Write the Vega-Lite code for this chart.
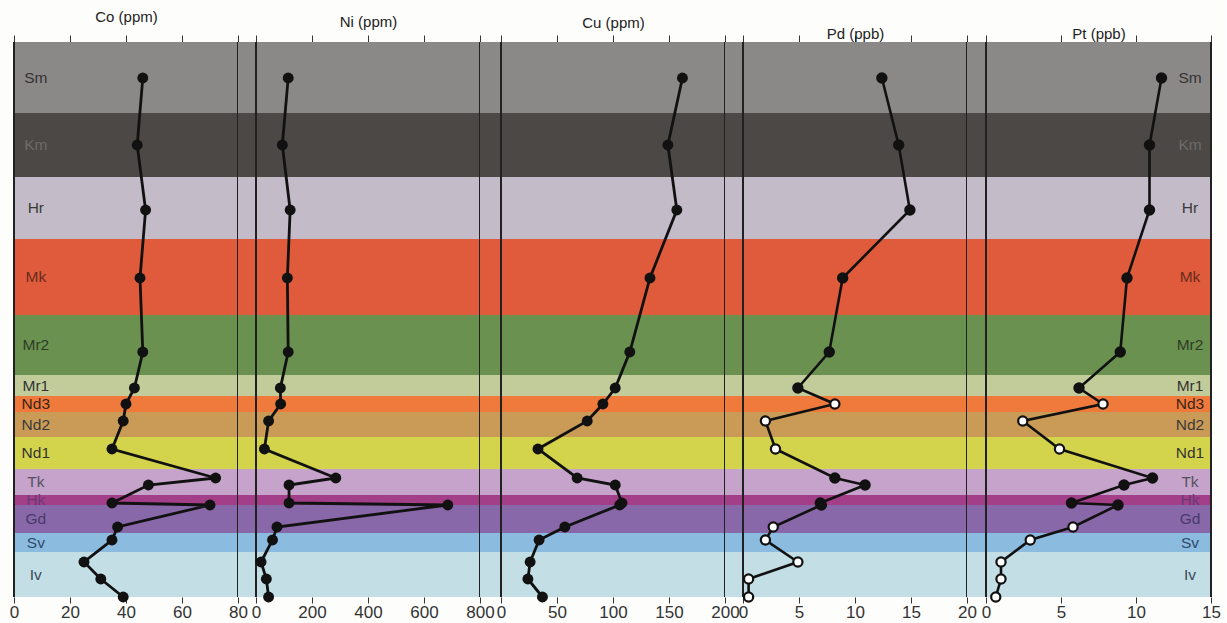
{
  "$schema": "https://vega.github.io/schema/vega-lite/v6.json",
  "background": "#fdfdfb",
  "padding": {"left": 9, "top": 9, "right": 5, "bottom": 5},
  "spacing": 0,
  "bounds": "flush",
  "config": {
    "view": {"stroke": null},
    "font": "Liberation Sans",
    "axis": {"grid": false}
  },
  "resolve": {"scale": {"x": "independent"}},
  "datasets": {
    "bands": [
      {"unit": "Sm", "bottom": 484, "top": 555},
      {"unit": "Km", "bottom": 420, "top": 484},
      {"unit": "Hr", "bottom": 358, "top": 420},
      {"unit": "Mk", "bottom": 282, "top": 358},
      {"unit": "Mr2", "bottom": 222, "top": 282},
      {"unit": "Mr1", "bottom": 201, "top": 222},
      {"unit": "Nd3", "bottom": 185, "top": 201},
      {"unit": "Nd2", "bottom": 160, "top": 185},
      {"unit": "Nd1", "bottom": 128, "top": 160},
      {"unit": "Tk", "bottom": 102, "top": 128},
      {"unit": "Hk", "bottom": 92, "top": 102},
      {"unit": "Gd", "bottom": 64, "top": 92},
      {"unit": "Sv", "bottom": 45, "top": 64},
      {"unit": "Iv", "bottom": 0, "top": 45}
    ],
    "samples": [
      {"unit": "Sm", "height": 519, "Co": 46, "Ni": 115, "Cu": 162, "Pd": 12.4, "Pd_group": "A", "Pt": 11.7, "Pt_group": "A"},
      {"unit": "Km", "height": 452, "Co": 44, "Ni": 94, "Cu": 149, "Pd": 13.9, "Pd_group": "A", "Pt": 10.9, "Pt_group": "A"},
      {"unit": "Hr", "height": 387, "Co": 47, "Ni": 122, "Cu": 157, "Pd": 14.9, "Pd_group": "A", "Pt": 10.9, "Pt_group": "A"},
      {"unit": "Mk", "height": 319, "Co": 45, "Ni": 112, "Cu": 133, "Pd": 8.9, "Pd_group": "A", "Pt": 9.4, "Pt_group": "A"},
      {"unit": "Mr2", "height": 245, "Co": 46, "Ni": 115, "Cu": 115, "Pd": 7.7, "Pd_group": "A", "Pt": 8.95, "Pt_group": "A"},
      {"unit": "Mr1", "height": 209, "Co": 43, "Ni": 87, "Cu": 102, "Pd": 4.9, "Pd_group": "A", "Pt": 6.2, "Pt_group": "A"},
      {"unit": "Nd3", "height": 193, "Co": 40, "Ni": 88, "Cu": 91, "Pd": 8.2, "Pd_group": "B", "Pt": 7.8, "Pt_group": "B"},
      {"unit": "Nd2", "height": 176, "Co": 39, "Ni": 45, "Cu": 77, "Pd": 2.0, "Pd_group": "B", "Pt": 2.45, "Pt_group": "B"},
      {"unit": "Nd1", "height": 148, "Co": 35, "Ni": 30, "Cu": 33, "Pd": 2.9, "Pd_group": "B", "Pt": 4.9, "Pt_group": "B"},
      {"unit": "Tk", "height": 119, "Co": 72, "Ni": 285, "Cu": 68, "Pd": 8.2, "Pd_group": "A", "Pt": 11.1, "Pt_group": "A"},
      {"unit": "Tk", "height": 112, "Co": 48, "Ni": 118, "Cu": 102, "Pd": 10.9, "Pd_group": "A", "Pt": 9.2, "Pt_group": "A"},
      {"unit": "Hk", "height": 94, "Co": 35, "Ni": 118, "Cu": 108, "Pd": 6.9, "Pd_group": "A", "Pt": 5.7, "Pt_group": "A"},
      {"unit": "Hk", "height": 92, "Co": 70, "Ni": 685, "Cu": 106, "Pd": 7.0, "Pd_group": "A", "Pt": 8.8, "Pt_group": "A"},
      {"unit": "Gd", "height": 70, "Co": 37, "Ni": 75, "Cu": 57, "Pd": 2.7, "Pd_group": "B", "Pt": 5.8, "Pt_group": "B"},
      {"unit": "Sv", "height": 57, "Co": 35, "Ni": 59, "Cu": 34, "Pd": 2.0, "Pd_group": "B", "Pt": 2.95, "Pt_group": "B"},
      {"unit": "Iv", "height": 35, "Co": 25, "Ni": 18, "Cu": 26, "Pd": 4.9, "Pd_group": "B", "Pt": 1.0, "Pt_group": "B"},
      {"unit": "Iv", "height": 18, "Co": 31, "Ni": 37, "Cu": 24, "Pd": 0.5, "Pd_group": "B", "Pt": 1.0, "Pt_group": "B"},
      {"unit": "Iv", "height": 0, "Co": 39, "Ni": 45, "Cu": 37, "Pd": 0.5, "Pd_group": "B", "Pt": 0.65, "Pt_group": "B"}
    ]
  },
  "hconcat": [
    {
      "width": 224, "height": 555,
      "resolve": {"axis": {"x": "independent"}},
      "layer": [
        {"data": {"name": "bands"}, "mark": {"type": "rect"},
         "encoding": {
           "y": {"field": "bottom", "type": "quantitative", "scale": {"domain": [0, 555], "nice": false, "zero": false}, "axis": null},
           "y2": {"field": "top"},
           "color": {"field": "unit", "type": "nominal", "legend": null,
             "scale": {"domain": ["Sm","Km","Hr","Mk","Mr2","Mr1","Nd3","Nd2","Nd1","Tk","Hk","Gd","Sv","Iv"],
                       "range": ["#8b8888","#4b4845","#c3bbc8","#e05b3b","#6a9150","#c2cc9a","#ef7a3c","#c99b57","#d4d34c","#c6a3cb","#a23f88","#8868a8","#8cbbe0","#c3dfe5"]}}
         }},
        {"data": {"name": "bands"}, "transform": [{"calculate": "(datum.top + datum.bottom) / 2", "as": "mid"}],
         "mark": {"type": "text", "fontSize": 15.5, "align": "center", "baseline": "middle"},
         "encoding": {
           "x": {"datum": 7.8, "type": "quantitative", "axis": null},
           "y": {"field": "mid", "type": "quantitative", "axis": null},
           "text": {"field": "unit"},
           "fill": {"field": "unit", "type": "nominal", "legend": null,
             "scale": {"domain": ["Sm","Km","Hr","Mk","Mr2","Mr1","Nd3","Nd2","Nd1","Tk","Hk","Gd","Sv","Iv"],
                       "range": ["#333333","#6e6b68","#3a3a3a","#6a2c1c","#2d3d25","#333333","#3a2416","#3a3a3a","#333333","#555060","#6a3a7a","#4a3a6a","#2f4a6a","#3a4a5a"]}}
         }},
        {"data": {"name": "samples"}, "mark": {"type": "rule", "color": "#222", "strokeWidth": 1.2},
         "encoding": {"x": {"datum": 0, "type": "quantitative", "axis": null}}},
        {"data": {"name": "samples"}, "mark": {"type": "rule", "color": "#222", "strokeWidth": 1.2},
         "encoding": {"x": {"datum": 80, "type": "quantitative", "axis": null}}},
        {"data": {"name": "samples"}, "mark": {"type": "line", "color": "#111", "strokeWidth": 2.8},
         "encoding": {
           "x": {"field": "Co", "type": "quantitative", "scale": {"domain": [0, 80], "nice": false, "zero": true},
                 "axis": {"orient": "bottom", "values": [0, 20, 40, 60, 80], "title": null, "domain": false, "labelFontSize": 17, "labelColor": "#333", "tickColor": "#333", "tickSize": 6, "labelPadding": 1, "labelFlush": false, "labelOverlap": false}},
           "y": {"field": "height", "type": "quantitative", "axis": null},
           "order": {"field": "height", "sort": "descending"}
         }},
        {"data": {"name": "samples"}, "mark": {"type": "point", "filled": true, "color": "#111", "size": 120, "opacity": 1},
         "encoding": {
           "x": {"field": "Co", "type": "quantitative",
                 "axis": {"orient": "top", "values": [0, 20, 40, 60, 80], "labels": false, "title": "Co (ppm)", "domain": true, "domainColor": "#333", "tickColor": "#333", "tickSize": 7, "titleFontSize": 15, "titleFontWeight": "normal", "titleColor": "#222", "titlePadding": 10}},
           "y": {"field": "height", "type": "quantitative", "axis": null}
         }}
      ]
    },
    {
      "width": 18, "height": 555,
      "data": {"name": "bands"}, "mark": {"type": "rect"},
      "encoding": {
        "y": {"field": "bottom", "type": "quantitative", "scale": {"domain": [0, 555], "nice": false, "zero": false}, "axis": null},
        "y2": {"field": "top"},
        "color": {"field": "unit", "type": "nominal", "legend": null}
      }
    },
    {
      "width": 224, "height": 555,
      "resolve": {"axis": {"x": "independent"}},
      "layer": [
        {"data": {"name": "bands"}, "mark": {"type": "rect"},
         "encoding": {
           "y": {"field": "bottom", "type": "quantitative", "scale": {"domain": [0, 555], "nice": false, "zero": false}, "axis": null},
           "y2": {"field": "top"},
           "color": {"field": "unit", "type": "nominal", "legend": null}
         }},
        {"data": {"name": "samples"}, "mark": {"type": "rule", "color": "#222", "strokeWidth": 1.2},
         "encoding": {"x": {"datum": 0, "type": "quantitative", "axis": null}}},
        {"data": {"name": "samples"}, "mark": {"type": "rule", "color": "#222", "strokeWidth": 1.2},
         "encoding": {"x": {"datum": 800, "type": "quantitative", "axis": null}}},
        {"data": {"name": "samples"}, "mark": {"type": "line", "color": "#111", "strokeWidth": 2.8},
         "encoding": {
           "x": {"field": "Ni", "type": "quantitative", "scale": {"domain": [0, 800], "nice": false, "zero": true},
                 "axis": {"orient": "bottom", "values": [0, 200, 400, 600, 800], "title": null, "domain": false, "labelFontSize": 17, "labelColor": "#333", "tickColor": "#333", "tickSize": 6, "labelPadding": 1, "labelFlush": false, "labelOverlap": false}},
           "y": {"field": "height", "type": "quantitative", "axis": null},
           "order": {"field": "height", "sort": "descending"}
         }},
        {"data": {"name": "samples"}, "mark": {"type": "point", "filled": true, "color": "#111", "size": 120, "opacity": 1},
         "encoding": {
           "x": {"field": "Ni", "type": "quantitative",
                 "axis": {"orient": "top", "values": [0, 200, 400, 600, 800], "labels": false, "title": "Ni (ppm)", "domain": true, "domainColor": "#333", "tickColor": "#333", "tickSize": 7, "titleFontSize": 15, "titleFontWeight": "normal", "titleColor": "#222", "titlePadding": 5}},
           "y": {"field": "height", "type": "quantitative", "axis": null}
         }}
      ]
    },
    {
      "width": 21, "height": 555,
      "data": {"name": "bands"}, "mark": {"type": "rect"},
      "encoding": {
        "y": {"field": "bottom", "type": "quantitative", "scale": {"domain": [0, 555], "nice": false, "zero": false}, "axis": null},
        "y2": {"field": "top"},
        "color": {"field": "unit", "type": "nominal", "legend": null}
      }
    },
    {
      "width": 224, "height": 555,
      "resolve": {"axis": {"x": "independent"}},
      "layer": [
        {"data": {"name": "bands"}, "mark": {"type": "rect"},
         "encoding": {
           "y": {"field": "bottom", "type": "quantitative", "scale": {"domain": [0, 555], "nice": false, "zero": false}, "axis": null},
           "y2": {"field": "top"},
           "color": {"field": "unit", "type": "nominal", "legend": null}
         }},
        {"data": {"name": "samples"}, "mark": {"type": "rule", "color": "#222", "strokeWidth": 1.2},
         "encoding": {"x": {"datum": 0, "type": "quantitative", "axis": null}}},
        {"data": {"name": "samples"}, "mark": {"type": "rule", "color": "#222", "strokeWidth": 1.2},
         "encoding": {"x": {"datum": 200, "type": "quantitative", "axis": null}}},
        {"data": {"name": "samples"}, "mark": {"type": "line", "color": "#111", "strokeWidth": 2.8},
         "encoding": {
           "x": {"field": "Cu", "type": "quantitative", "scale": {"domain": [0, 200], "nice": false, "zero": true},
                 "axis": {"orient": "bottom", "values": [0, 50, 100, 150, 200], "title": null, "domain": false, "labelFontSize": 17, "labelColor": "#333", "tickColor": "#333", "tickSize": 6, "labelPadding": 1, "labelFlush": false, "labelOverlap": false}},
           "y": {"field": "height", "type": "quantitative", "axis": null},
           "order": {"field": "height", "sort": "descending"}
         }},
        {"data": {"name": "samples"}, "mark": {"type": "point", "filled": true, "color": "#111", "size": 120, "opacity": 1},
         "encoding": {
           "x": {"field": "Cu", "type": "quantitative",
                 "axis": {"orient": "top", "values": [0, 50, 100, 150, 200], "labels": false, "title": "Cu (ppm)", "domain": true, "domainColor": "#333", "tickColor": "#333", "tickSize": 7, "titleFontSize": 15, "titleFontWeight": "normal", "titleColor": "#222", "titlePadding": 4}},
           "y": {"field": "height", "type": "quantitative", "axis": null}
         }}
      ]
    },
    {
      "width": 18, "height": 555,
      "data": {"name": "bands"}, "mark": {"type": "rect"},
      "encoding": {
        "y": {"field": "bottom", "type": "quantitative", "scale": {"domain": [0, 555], "nice": false, "zero": false}, "axis": null},
        "y2": {"field": "top"},
        "color": {"field": "unit", "type": "nominal", "legend": null}
      }
    },
    {
      "width": 224, "height": 555,
      "resolve": {"axis": {"x": "independent"}},
      "layer": [
        {"data": {"name": "bands"}, "mark": {"type": "rect"},
         "encoding": {
           "y": {"field": "bottom", "type": "quantitative", "scale": {"domain": [0, 555], "nice": false, "zero": false}, "axis": null},
           "y2": {"field": "top"},
           "color": {"field": "unit", "type": "nominal", "legend": null}
         }},
        {"data": {"name": "samples"}, "mark": {"type": "rule", "color": "#222", "strokeWidth": 1.2},
         "encoding": {"x": {"datum": 0, "type": "quantitative", "axis": null}}},
        {"data": {"name": "samples"}, "mark": {"type": "rule", "color": "#222", "strokeWidth": 1.2},
         "encoding": {"x": {"datum": 20, "type": "quantitative", "axis": null}}},
        {"data": {"name": "samples"}, "mark": {"type": "line", "color": "#111", "strokeWidth": 2.6},
         "encoding": {
           "x": {"field": "Pd", "type": "quantitative", "scale": {"domain": [0, 20], "nice": false, "zero": true},
                 "axis": {"orient": "bottom", "values": [0, 5, 10, 15, 20], "title": null, "domain": false, "labelFontSize": 17, "labelColor": "#333", "tickColor": "#333", "tickSize": 6, "labelPadding": 1, "labelFlush": false, "labelOverlap": false}},
           "y": {"field": "height", "type": "quantitative", "axis": null},
           "order": {"field": "height", "sort": "descending"}
         }},
        {"data": {"name": "samples"}, "mark": {"type": "point", "size": 85, "opacity": 1, "stroke": "#111", "strokeWidth": 2.2},
         "encoding": {
           "x": {"field": "Pd", "type": "quantitative",
                 "axis": {"orient": "top", "values": [0, 5, 10, 15, 20], "labels": false, "title": "Pd (ppb)", "domain": true, "domainColor": "#333", "tickColor": "#333", "tickSize": 7, "titleFontSize": 15, "titleFontWeight": "normal", "titleColor": "#222", "titlePadding": -7}},
           "y": {"field": "height", "type": "quantitative", "axis": null},
           "fill": {"condition": {"test": "datum.Pd_group === 'B'", "value": "#ffffff"}, "value": "#111111"}
         }}
      ]
    },
    {
      "width": 19, "height": 555,
      "data": {"name": "bands"}, "mark": {"type": "rect"},
      "encoding": {
        "y": {"field": "bottom", "type": "quantitative", "scale": {"domain": [0, 555], "nice": false, "zero": false}, "axis": null},
        "y2": {"field": "top"},
        "color": {"field": "unit", "type": "nominal", "legend": null}
      }
    },
    {
      "width": 225, "height": 555,
      "resolve": {"axis": {"x": "independent"}},
      "layer": [
        {"data": {"name": "bands"}, "mark": {"type": "rect"},
         "encoding": {
           "y": {"field": "bottom", "type": "quantitative", "scale": {"domain": [0, 555], "nice": false, "zero": false}, "axis": null},
           "y2": {"field": "top"},
           "color": {"field": "unit", "type": "nominal", "legend": null}
         }},
        {"data": {"name": "bands"}, "transform": [{"calculate": "(datum.top + datum.bottom) / 2", "as": "mid"}],
         "mark": {"type": "text", "fontSize": 15.5, "align": "center", "baseline": "middle"},
         "encoding": {
           "x": {"datum": 13.6, "type": "quantitative", "axis": null},
           "y": {"field": "mid", "type": "quantitative", "axis": null},
           "text": {"field": "unit"},
           "fill": {"field": "unit", "type": "nominal", "legend": null}
         }},
        {"data": {"name": "samples"}, "mark": {"type": "rule", "color": "#222", "strokeWidth": 1.2},
         "encoding": {"x": {"datum": 0, "type": "quantitative", "axis": null}}},
        {"data": {"name": "samples"}, "mark": {"type": "rule", "color": "#222", "strokeWidth": 1.2},
         "encoding": {"x": {"datum": 15, "type": "quantitative", "axis": null}}},
        {"data": {"name": "samples"}, "mark": {"type": "line", "color": "#111", "strokeWidth": 2.6},
         "encoding": {
           "x": {"field": "Pt", "type": "quantitative", "scale": {"domain": [0, 15], "nice": false, "zero": true},
                 "axis": {"orient": "bottom", "values": [0, 5, 10, 15], "title": null, "domain": false, "labelFontSize": 17, "labelColor": "#333", "tickColor": "#333", "tickSize": 6, "labelPadding": 1, "labelFlush": false, "labelOverlap": false}},
           "y": {"field": "height", "type": "quantitative", "axis": null},
           "order": {"field": "height", "sort": "descending"}
         }},
        {"data": {"name": "samples"}, "mark": {"type": "point", "size": 85, "opacity": 1, "stroke": "#111", "strokeWidth": 2.2},
         "encoding": {
           "x": {"field": "Pt", "type": "quantitative",
                 "axis": {"orient": "top", "values": [0, 5, 10, 15], "labels": false, "title": "Pt (ppb)", "domain": true, "domainColor": "#333", "tickColor": "#333", "tickSize": 7, "titleFontSize": 15, "titleFontWeight": "normal", "titleColor": "#222", "titlePadding": -7}},
           "y": {"field": "height", "type": "quantitative", "axis": null},
           "fill": {"condition": {"test": "datum.Pt_group === 'B'", "value": "#ffffff"}, "value": "#111111"}
         }}
      ]
    }
  ]
}
